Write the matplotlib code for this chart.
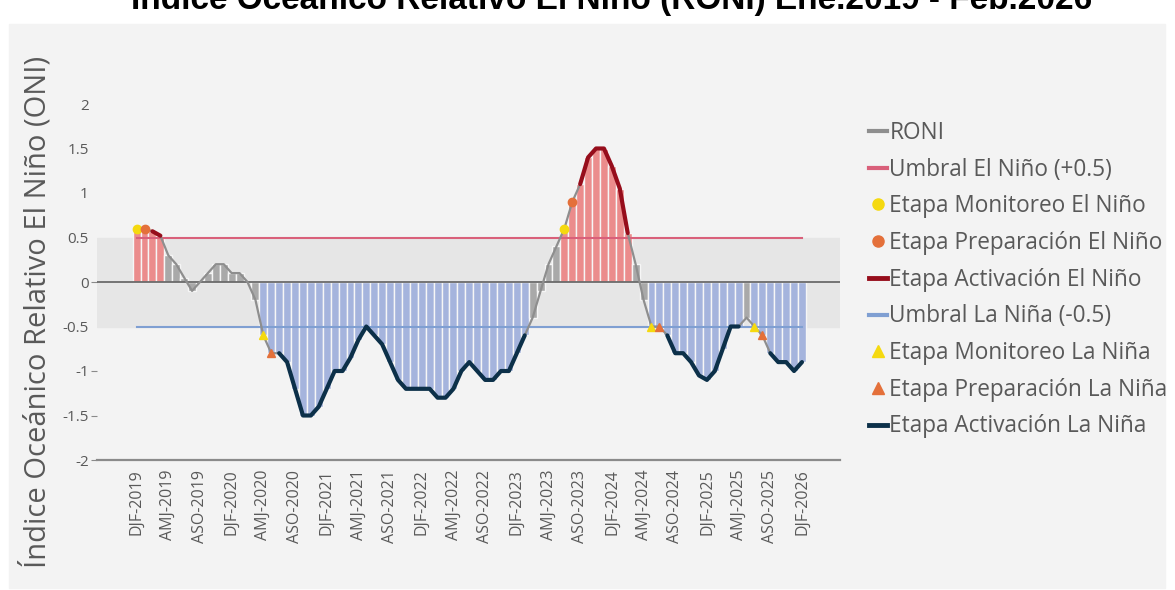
import matplotlib
matplotlib.use("Agg")
import matplotlib.pyplot as plt
from matplotlib.lines import Line2D
from matplotlib.patches import Rectangle
import numpy as np

# RONI, one value per running 3-month season, DJF-2019 .. DJF-2026
roni = [0.6, 0.6, 0.57, 0.52, 0.3, 0.2, 0.05, -0.1, 0.0, 0.1, 0.2, 0.2,
        0.1, 0.1, 0.0, -0.2, -0.6, -0.8, -0.8, -0.9, -1.2, -1.5, -1.5, -1.4,
        -1.2, -1.0, -1.0, -0.85, -0.65, -0.5, -0.6, -0.7, -0.9, -1.1, -1.2, -1.2,
        -1.2, -1.2, -1.3, -1.3, -1.2, -1.0, -0.9, -1.0, -1.1, -1.1, -1.0, -1.0,
        -0.8, -0.6, -0.4, -0.1, 0.2, 0.4, 0.6, 0.9, 1.1, 1.4, 1.5, 1.5,
        1.3, 1.05, 0.55, 0.2, -0.2, -0.5, -0.5, -0.6, -0.8, -0.8, -0.9, -1.05,
        -1.1, -1.0, -0.75, -0.5, -0.5, -0.4, -0.5, -0.6, -0.8, -0.9, -0.9, -1.0,
        -0.9]

tick_labels = ["DJF-2019", "AMJ-2019", "ASO-2019", "DJF-2020", "AMJ-2020", "ASO-2020",
               "DJF-2021", "AMJ-2021", "ASO-2021", "DJF-2022", "AMJ-2022", "ASO-2022",
               "DJF-2023", "AMJ-2023", "ASO-2023", "DJF-2024", "AMJ-2024", "ASO-2024",
               "DJF-2025", "AMJ-2025", "ASO-2025", "DJF-2026"]

y_ticks = [-2, -1.5, -1, -0.5, 0, 0.5, 1, 1.5, 2]
y_tick_labels = ["-2", "-1.5", "-1", "-0.5", "0", "0.5", "1", "1.5", "2"]

umbral_nino = 0.5
umbral_nina = -0.5

# phases (indices into roni)
nino_bars = [(0, 3), (54, 62)]
nina_bars = [(16, 49), (65, 76), (78, 84)]
monitoreo_nino = [0, 54]
preparacion_nino = [1, 55]
activacion_nino = [(2, 3), (56, 62)]
monitoreo_nina = [16, 65, 78]
preparacion_nina = [17, 66, 79]
activacion_nina = [(18, 49), (67, 76), (80, 84)]

c_gray = "#8e8e8e"
c_red_thr = "#d9607a"
c_blue_thr = "#7f9fd2"
c_yellow = "#f5d90f"
c_orange = "#e4703a"
c_dred = "#960d1b"
c_navy = "#0c3049"

plt.rcParams["font.family"] = ["Open Sans", "DejaVu Sans"]

fig = plt.figure(figsize=(11.75, 5.9), dpi=100)
# light grey panel behind everything
fig.patches.append(Rectangle((9 / 1175, 1 - 588 / 590), 1156 / 1175, 564 / 590,
                             transform=fig.transFigure, color="#f3f3f3", zorder=-5))

fig.text(612 / 1175, 1 - 9 / 590, "Índice Oceánico Relativo El Niño (RONI) Ene.2019 - Feb.2026",
         ha="center", va="baseline", fontsize=24, fontweight="bold",
         family="Liberation Sans", color="black")

ax = fig.add_axes([97 / 1175, 1 - 460 / 590, 743 / 1175, 356 / 590])
ax.set_facecolor("none")

x = np.arange(len(roni))
vals = np.array(roni)

bar_colors = ["#a9a9a9"] * len(roni)
for a, b in nino_bars:
    for i in range(a, b + 1):
        bar_colors[i] = "#eb8c8c"
for a, b in nina_bars:
    for i in range(a, b + 1):
        bar_colors[i] = "#a5b4dd"

ax.axhspan(umbral_nina, umbral_nino, color="#e6e6e6", zorder=0)
ax.bar(x, vals, width=1.0, color=bar_colors, edgecolor="#f6f6f6", linewidth=1.0, zorder=1)
ax.axhline(0, color="#6a6a6a", lw=1.3, zorder=2)

ax.plot(x, [umbral_nino] * len(x), color=c_red_thr, lw=1.5, zorder=3)
ax.plot(x, [umbral_nina] * len(x), color=c_blue_thr, lw=1.5, zorder=3)
ax.plot(x, vals, color=c_gray, lw=1.6, zorder=4)

for a, b in activacion_nino:
    ax.plot(x[a:b + 1], vals[a:b + 1], color=c_dred, lw=3, zorder=5, solid_capstyle="round")
for a, b in activacion_nina:
    ax.plot(x[a:b + 1], vals[a:b + 1], color=c_navy, lw=3, zorder=5, solid_capstyle="round")

ax.plot(x[monitoreo_nino], vals[monitoreo_nino], "o", color=c_yellow, ms=6, zorder=6)
ax.plot(x[preparacion_nino], vals[preparacion_nino], "o", color=c_orange, ms=6, zorder=6)
ax.plot(x[monitoreo_nina], vals[monitoreo_nina], "^", color=c_yellow, ms=6, zorder=6)
ax.plot(x[preparacion_nina], vals[preparacion_nina], "^", color=c_orange, ms=6, zorder=6)

ax.set_xlim(-5, 88.8)
ax.set_ylim(-2, 2)
ax.set_xticks(x[::4])
ax.set_xticklabels(tick_labels, rotation=90, fontsize=11.5, color="#595959")
ax.set_yticks(y_ticks)
ax.set_yticklabels(y_tick_labels, fontsize=11, color="#595959")
ax.tick_params(axis="x", length=0, pad=7)
ax.tick_params(axis="y", length=4, color="#8a8a8a", pad=2)
# the original only shows tick dashes at 0 and below the La Niña band
for v, t in zip(y_ticks, ax.yaxis.get_major_ticks()):
    if v in (0.5, 1, 1.5, 2, -0.5):
        t.tick1line.set_visible(False)
for s in ["top", "right", "left"]:
    ax.spines[s].set_visible(False)
ax.spines["bottom"].set_color("#8a8a8a")
ax.spines["bottom"].set_linewidth(1.6)

fig.text(36 / 1175, 1 - 312 / 590, "Índice Oceánico Relativo El Niño (ONI)", rotation=90,
         ha="center", va="center", fontsize=21, color="#595959")

handles = [
    Line2D([], [], color=c_gray, lw=3),
    Line2D([], [], color=c_red_thr, lw=3),
    Line2D([], [], ls="none", marker="o", color=c_yellow, ms=8),
    Line2D([], [], ls="none", marker="o", color=c_orange, ms=8),
    Line2D([], [], color=c_dred, lw=3.5),
    Line2D([], [], color=c_blue_thr, lw=3),
    Line2D([], [], ls="none", marker="^", color=c_yellow, ms=8),
    Line2D([], [], ls="none", marker="^", color=c_orange, ms=8),
    Line2D([], [], color=c_navy, lw=3.5),
]
labels = ["RONI", "Umbral El Niño (+0.5)", "Etapa Monitoreo El Niño",
          "Etapa Preparación El Niño", "Etapa Activación El Niño",
          "Umbral La Niña (-0.5)", "Etapa Monitoreo La Niña",
          "Etapa Preparación La Niña", "Etapa Activación La Niña"]
leg = fig.legend(handles, labels, loc="upper left", bbox_to_anchor=(860 / 1175, 1 - 112 / 590),
                 frameon=False, fontsize=16.3, handlelength=0.8, handletextpad=0.1,
                 labelspacing=0.56, borderaxespad=0)
for t in leg.get_texts():
    t.set_color("#595959")

fig.savefig("out.png", dpi=100, facecolor="white")
